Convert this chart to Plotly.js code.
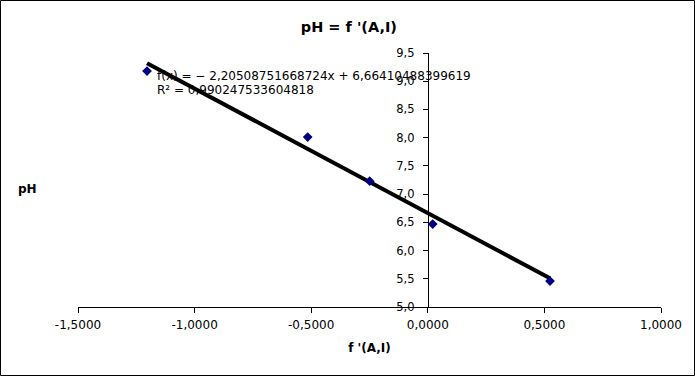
<!DOCTYPE html>
<html>
<head>
<meta charset="utf-8">
<script src="https://cdn.plot.ly/plotly-3.0.1.min.js"></script>
<style>
html,body{margin:0;padding:0;background:#fff;}
#chart{width:695px;height:376px;}
</style>
</head>
<body>
<div id="chart"></div>
<script>
const fAI = [-1.204, -0.515, -0.249, 0.021, 0.524];
const pH = [9.18, 8.01, 7.23, 6.47, 5.46];
const slope = -2.20508751668724;
const intercept = 6.66410488399619;
const equationText = "f(x) = − 2,20508751668724x + 6,66410488399619";
const r2Text = "R² = 0,990247533604818";
const xTickVals = [-1.5, -1.0, -0.5, 0.0, 0.5, 1.0];
const xTickText = ["-1,5000", "-1,0000", "-0,5000", "0,0000", "0,5000", "1,0000"];
const yTickVals = [5.0, 5.5, 6.0, 6.5, 7.0, 7.5, 8.0, 8.5, 9.0, 9.5];
const yTickText = ["5,0", "5,5", "6,0", "6,5", "7,0", "7,5", "8,0", "8,5", "9,0", "9,5"];

const xMin = Math.min(...fAI), xMax = Math.max(...fAI);
const trendX = [xMin, xMax];
const trendY = trendX.map(x => slope * x + intercept);

const fam = "DejaVu Sans, sans-serif";
const font = {family: fam, size: 12, color: "#000"};

const traces = [
  {x: trendX, y: trendY, mode: "lines", line: {color: "#000", width: 4}, hoverinfo: "skip"},
  {x: fAI, y: pH, mode: "markers", marker: {symbol: "diamond", size: 7.5, color: "#000080", line: {color: "#000080", width: 0}}}
];

const xRange = [-1.5, 1.0];
const layout = {
  width: 695, height: 376,
  margin: {l: 78, r: 34, t: 53, b: 69},
  paper_bgcolor: "#fff", plot_bgcolor: "#fff",
  showlegend: false,
  font: font,
  title: {text: "<b>pH = f '(A,I)</b>", x: 0.502, xanchor: "center", y: 0.928, yanchor: "middle", font: {family: fam, size: 14.5, color: "#000"}},
  xaxis: {
    range: xRange, domain: [0, 1], showgrid: false, zeroline: false,
    showline: true, linecolor: "#000", linewidth: 1,
    ticks: "outside", ticklen: 5, tickcolor: "#000",
    tickvals: xTickVals, ticktext: xTickText,
    tickfont: {family: fam, size: 12, color: "#000"},
    ticklabelstandoff: 2,
    title: {text: "<b>f '(A,I)</b>", font: {family: fam, size: 12, color: "#000"}, standoff: 12}
  },
  yaxis: {
    range: [5.0, 9.5], showgrid: false, zeroline: false,
    anchor: "free", position: (0 - xRange[0]) / (xRange[1] - xRange[0]),
    showline: true, linecolor: "#000", linewidth: 1,
    ticks: "outside", ticklen: 5, tickcolor: "#000",
    tickvals: yTickVals, ticktext: yTickText,
    tickfont: {family: fam, size: 11.5, color: "#000"},
    ticklabelstandoff: 6
  },
  annotations: [
    {text: "<b>pH</b>", xref: "paper", yref: "paper", x: -0.086, y: 0.466, xanchor: "center", yanchor: "middle", showarrow: false, font: {family: fam, size: 12, color: "#000"}},
    {text: equationText, xref: "x", yref: "y", x: -1.168, y: 9.10, xanchor: "left", yanchor: "middle", align: "left", showarrow: false, font: {family: fam, size: 12, color: "#000"}},
    {text: r2Text, xref: "x", yref: "y", x: -1.168, y: 8.852, xanchor: "left", yanchor: "middle", align: "left", showarrow: false, font: {family: fam, size: 12, color: "#000"}}
  ],
  shapes: [
    {type: "rect", xref: "paper", yref: "paper", x0: -77.5/583, x1: 1 + 33.5/583, y0: -68.5/254, y1: 1 + 52.5/254, line: {color: "#000", width: 1}}
  ]
};

Plotly.newPlot("chart", traces, layout, {displayModeBar: false, staticPlot: true});
</script>
</body>
</html>
